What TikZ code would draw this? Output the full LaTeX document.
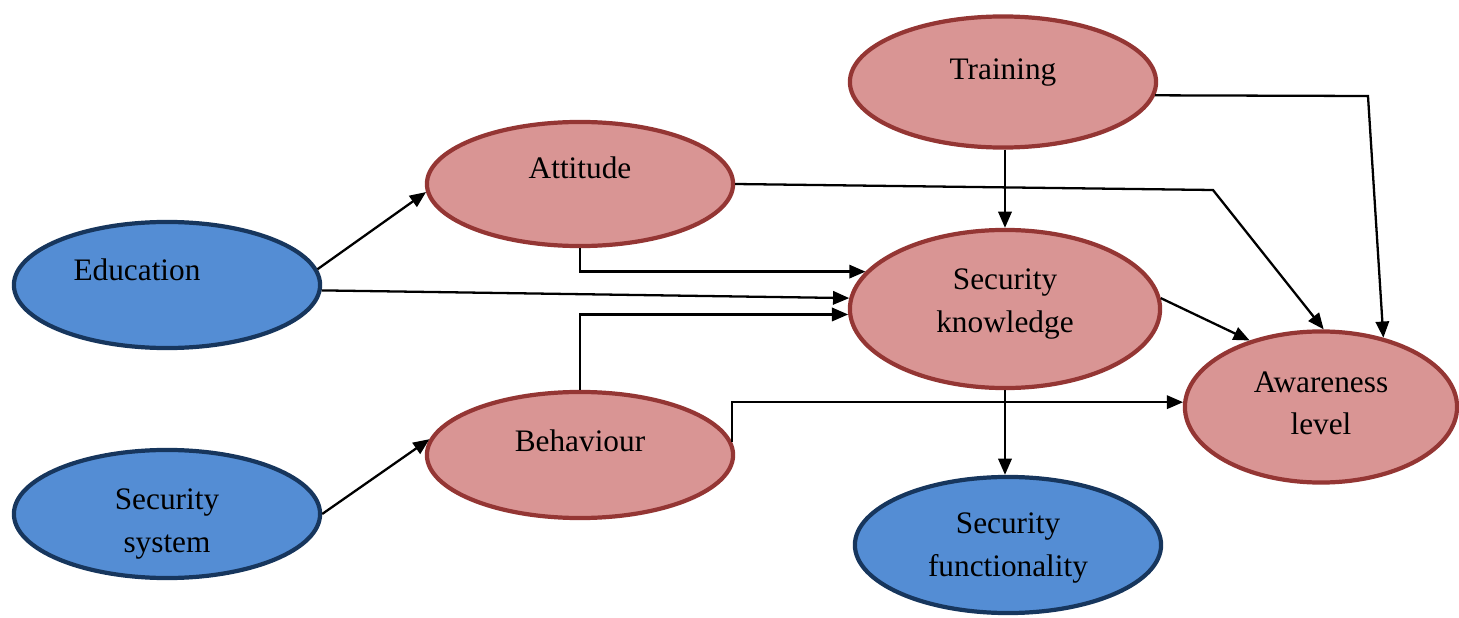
\documentclass[tikz,border=0pt]{standalone}
\usepackage{fontspec}
\setmainfont{Liberation Serif}
\usetikzlibrary{shapes.geometric, arrows.meta}
\definecolor{bluefill}{HTML}{548DD4}
\definecolor{blueline}{HTML}{17365D}
\definecolor{redfill}{HTML}{D99594}
\definecolor{redline}{HTML}{943634}
\tikzset{
>={Triangle[length=4.6pt,width=3.8pt]},
factor/.style={ellipse, line width=1.2pt, inner sep=0pt},
input/.style={factor, draw=blueline, fill=bluefill},
inner/.style={factor, draw=redline, fill=redfill},
caption/.style={font=\fontsize{8.9}{12}\selectfont, align=center, inner sep=0pt},
link/.style={->, line width=0.65pt, black},
}

\begin{document}
\begin{tikzpicture}[x=0.01cm, y=-0.01cm]
    \useasboundingbox (0,0) rectangle (1459,618);
    % ellipses
    \node[input, minimum width=3.06cm, minimum height=1.26cm] (edu) at (167,285) {};
    \node[input, minimum width=3.06cm, minimum height=1.28cm] (sys) at (167,514) {};
    \node[inner, minimum width=3.06cm, minimum height=1.24cm] (att) at (580,184) {};
    \node[inner, minimum width=3.06cm, minimum height=1.26cm] (beh) at (580,455) {};
    \node[inner, minimum width=3.06cm, minimum height=1.31cm] (trn) at (1003,82) {};
    \node[inner, minimum width=3.10cm, minimum height=1.58cm] (sk) at (1005,309) {};
    \node[input, minimum width=3.06cm, minimum height=1.36cm] (fun) at (1008,545) {};
    \node[inner, minimum width=2.72cm, minimum height=1.51cm] (awr) at (1321,407) {};
    % texts
    \node[caption, anchor=base] (edu-t) at (137,281) {Education};
    \node[caption] (sys-t) at (167,524) {Security\\system};
    \node[caption, anchor=base] (att-t) at (580,179) {Attitude};
    \node[caption, anchor=base] (beh-t) at (580,451) {Behaviour};
    \node[caption, anchor=base] (trn-t) at (1003,79) {Training};
    \node[caption] (sk-t) at (1005,304) {Security\\knowledge};
    \node[caption] (fun-t) at (1008,548) {Security\\functionality};
    \node[caption] (awr-t) at (1321,403) {Awareness\\level};
    % bends
    \coordinate (bendA) at (1213,190);
    \coordinate (bendB) at (1368,96);
    % links
    \draw[link] (edu.6) -- (att.183);
    \draw[link] (edu.358) -- (sk.176);
    \draw[link] (att.south) |- (sk.165);
    \draw[link] (beh.north) |- (sk.182);
    \draw[link] (att.east) -- (bendA) -- (awr.88);
    \draw[link] (trn.355) -- (bendB) -- (awr.48);
    \draw[link] (sk.north |- trn.south) -- (sk.north);
    \draw[link] (sk.4) -- (awr.137);
    \draw[link] (sk.south) -- (sk.south |- fun.north);
    \draw[link] (beh.5) |- (awr.178);
    \draw[link] (sys.east) -- (beh.174);
  \end{tikzpicture}
\end{document}
